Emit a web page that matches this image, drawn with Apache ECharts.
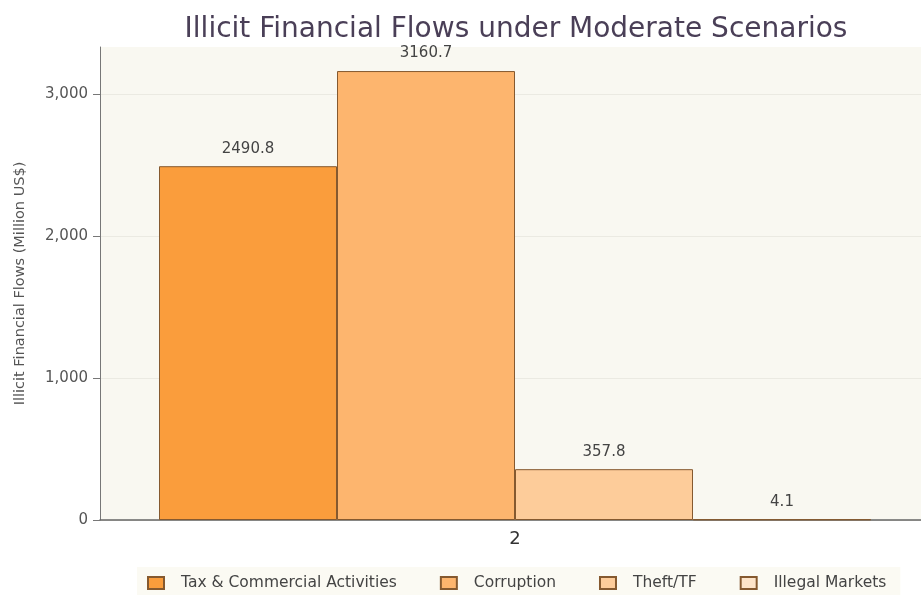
<!DOCTYPE html>
<html>
<head>
<meta charset="utf-8">
<script src="https://cdn.jsdelivr.net/npm/echarts@6/dist/echarts.min.js"></script>
<style>
  html, body { margin: 0; padding: 0; background: #ffffff; }
  #chart { width: 921px; height: 595px; }
</style>
</head>
<body>
<div id="chart"></div>
<script>
const categories = ['2'];
const seriesNames = ['Tax & Commercial Activities', 'Corruption', 'Theft/TF', 'Illegal Markets'];
const seriesValues = [[2490.8], [3160.7], [357.8], [4.1]];
const seriesColors = ['#fa9d3c', '#fdb56e', '#fdcc9a', '#fde4c9'];
const yTicks = [0, 1000, 2000, 3000];

const chart = echarts.init(document.getElementById('chart'));
const fontFamily = 'DejaVu Sans, Verdana, sans-serif';

chart.setOption({
    title: {
        text: 'Illicit Financial Flows under Moderate Scenarios',
        left: 511,
        textAlign: 'center',
        top: 11,
        textStyle: { fontSize: 28, fontWeight: 'normal', color: '#4a3f57', fontFamily }
    },
    legend: {
        top: 567,
        left: 137,
        icon: 'rect',
        itemWidth: 16,
        itemHeight: 12,
        itemGap: 43,
        padding: [8, 14, 12, 10],
        backgroundColor: '#fbfaf3',
        textStyle: { fontSize: 15.5, color: '#444', fontFamily, padding: [0, 0, 0, 12] },
        data: seriesNames
    },
    grid: {
        left: 100,
        width: 830,
        top: 47,
        bottom: 75,
        outerBoundsMode: 'none',
        show: true,
        backgroundColor: '#f9f8f1',
        borderWidth: 0
    },
    xAxis: {
        type: 'category',
        data: categories,
        axisLine: { lineStyle: { color: '#666', width: 1.5 } },
        axisTick: { show: false },
        axisLabel: { fontSize: 18, color: '#333', margin: 10, fontFamily },
        splitLine: { show: false }
    },
    yAxis: {
        type: 'value',
        min: 0,
        max: 3330,
        interval: 1000,
        name: 'Illicit Financial Flows (Million US$)',
        nameLocation: 'middle',
        nameGap: 72,
        nameTextStyle: { fontSize: 14.5, color: '#555', fontFamily },
        axisLine: { show: true, lineStyle: { color: '#777' } },
        axisTick: { show: true, length: 7, customValues: yTicks, lineStyle: { color: '#777' } },
        axisLabel: {
            fontSize: 15, color: '#555', fontFamily, margin: 12,
            customValues: yTicks,
            formatter: v => v.toLocaleString('en-US')
        },
        splitLine: { lineStyle: { color: '#ebeae2' } }
    },
    series: seriesNames.map((name, i) => ({
        name,
        type: 'bar',
        data: seriesValues[i],
        barWidth: 178,
        barGap: '0%',
        itemStyle: { color: seriesColors[i], borderColor: '#85592f', borderWidth: 1 },
        label: {
            show: true,
            position: 'top',
            distance: 10,
            fontSize: 15,
            color: '#444',
            fontFamily,
            formatter: p => p.value.toFixed(1)
        }
    }))
});
</script>
</body>
</html>
